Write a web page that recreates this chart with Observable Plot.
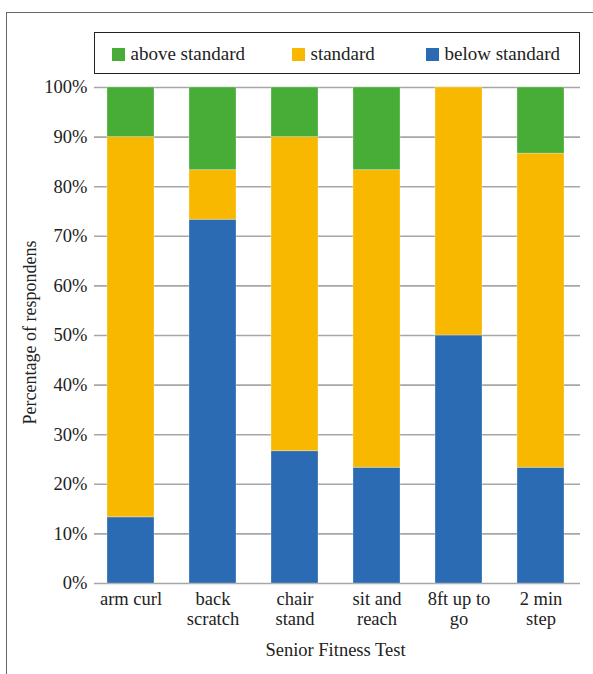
<!DOCTYPE html>
<html>
<head>
<meta charset="utf-8">
<script src="https://cdn.jsdelivr.net/npm/d3@7"></script>
<script src="https://cdn.jsdelivr.net/npm/@observablehq/plot@0.6"></script>
<style>
  html, body { margin: 0; padding: 0; background: #fff; }
  body { width: 593px; height: 674px; position: relative; overflow: hidden;
         font-family: "Liberation Serif", "DejaVu Serif", serif; color: #222; }
  #frame { position: absolute; left: 6px; top: 12px; width: 700px; height: 800px;
           border-left: 1.5px solid #666; border-top: 1.5px solid #666; }
  #chart { position: absolute; left: 0; top: 0; }
  #legendBox { position: absolute; left: 94px; top: 32px; width: 486px; height: 42px;
               box-sizing: border-box; border: 1.5px solid #222; background: #fff; }
  .item { position: absolute; top: 44px; height: 20px; display: flex; align-items: center;
          white-space: nowrap; font-size: 19px; line-height: 20px; }
  .sw { width: 13px; height: 13px; margin-right: 5.5px; flex: none; }
</style>
</head>
<body>
<div id="frame"></div>
<div id="chart"></div>
<div id="legendBox"></div>
<script>
// Senior Fitness Test results: respondents per category (30 per test)
const tests = ["arm curl", "back scratch", "chair stand", "sit and reach", "8ft up to go", "2 min step"];
const tickLabels = ["arm curl", "back\nscratch", "chair\nstand", "sit and\nreach", "8ft up to\ngo", "2 min\nstep"];
const below = [4, 22, 8, 7, 15, 7];
const standard = [23, 3, 19, 18, 15, 19];
const above = [3, 5, 3, 5, 0, 4];

const levels = ["below standard", "standard", "above standard"];
const colors = ["#2a6bb3", "#f9b800", "#47ad37"];
const series = [below, standard, above];

const rows = [];
tests.forEach((t, i) => {
  levels.forEach((lv, j) => rows.push({test: t, level: lv, count: series[j][i]}));
});

const font = "'Liberation Serif', 'DejaVu Serif', serif";
const chart = Plot.plot({
  width: 593,
  height: 674,
  marginTop: 87,
  marginBottom: 91,
  marginLeft: 89.5,
  marginRight: 11.5,
  style: {fontFamily: font, fontSize: "18.5px", color: "#222", background: "transparent"},
  x: {domain: tests, paddingInner: 0.43, paddingOuter: 0.215, label: null},
  y: {domain: [0, 1], label: null},
  color: {domain: levels, range: colors},
  marks: [
    Plot.ruleY(d3.range(0, 1.0001, 0.1), {stroke: "#a6a6a6", strokeWidth: 1.6, insetLeft: 4.5, insetRight: 1.5}),
    Plot.barY(rows, Plot.stackY({
      x: "test", y: "count", fill: "level", offset: "normalize", order: levels,
      stroke: "#fff", strokeOpacity: 0.35, strokeWidth: 0.8
    })),
    Plot.axisY({ticks: d3.range(0, 1.0001, 0.1), tickFormat: d3.format(".0%"), tickSize: 0, tickPadding: 2.5, label: null, fontSize: 18.5}),
    Plot.axisX({tickSize: 0, tickPadding: 7, tickFormat: (d) => tickLabels[tests.indexOf(d)], label: null, lineHeight: 1.08, fontSize: 18.5}),
    Plot.text(["Percentage of respondens"], {frameAnchor: "left", textAnchor: "middle", dx: -60, dy: -3, rotate: -90, fontSize: 18}),
    Plot.text(["Senior Fitness Test"], {frameAnchor: "bottom", dx: -0.5, dy: 72, fontSize: 18.5})
  ]
});
document.getElementById("chart").appendChild(chart);

// Legend entries placed inside the bordered box
const legendItems = [
  {label: "above standard", color: colors[2], left: 112},
  {label: "standard", color: colors[1], left: 292},
  {label: "below standard", color: colors[0], left: 426}
];
legendItems.forEach(it => {
  const el = document.createElement("div");
  el.className = "item";
  el.style.left = it.left + "px";
  el.innerHTML = `<span class="sw" style="background:${it.color}"></span><span>${it.label}</span>`;
  document.body.appendChild(el);
});
</script>
</body>
</html>
